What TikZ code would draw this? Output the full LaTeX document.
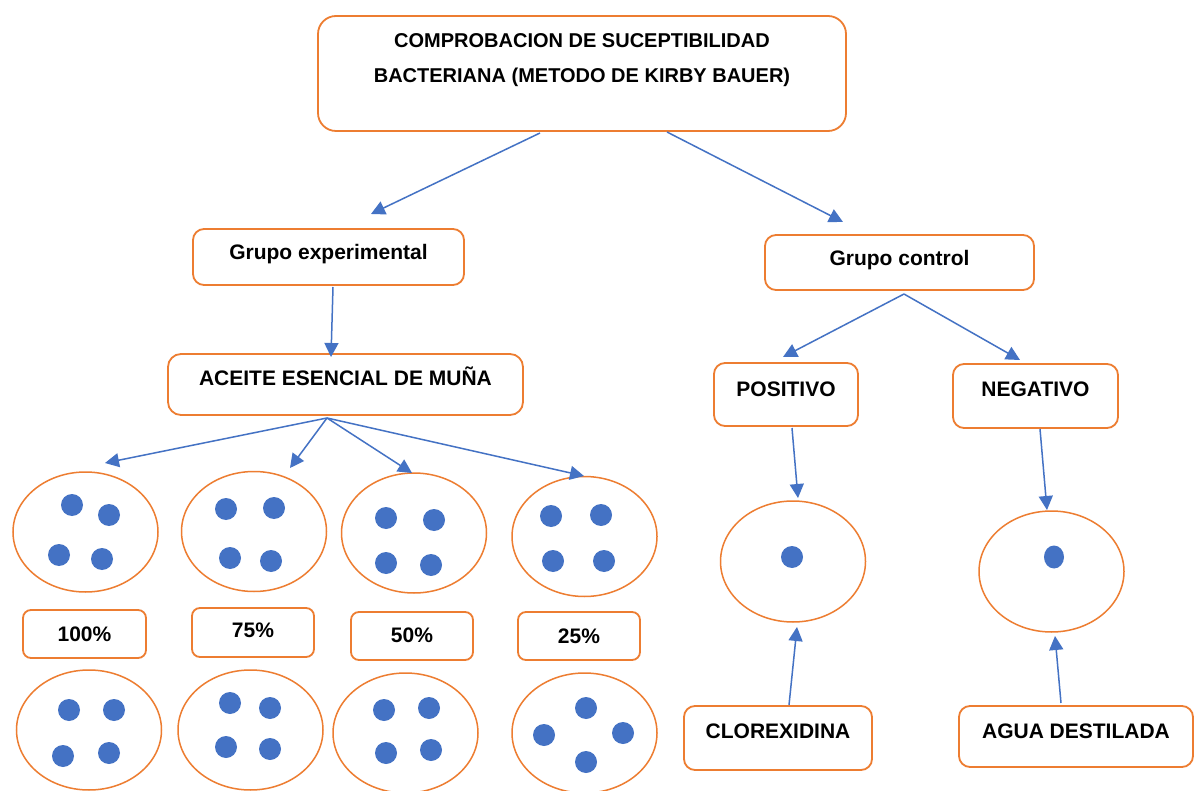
\documentclass[tikz,border=0pt]{standalone}
\usepackage{fontspec}
\setmainfont{Liberation Sans}
\usetikzlibrary{arrows.meta,shapes.geometric}
\definecolor{borderc}{HTML}{ED7D31}
\definecolor{bluec}{HTML}{4472C4}
\tikzset{
  box/.style={draw=borderc, line width=1.8pt, fill=white, rounded corners=11pt,
    inner sep=0pt, font=\bfseries\fontsize{21}{25}\selectfont, text=black},
  dish/.style={draw=borderc, line width=1.5pt, ellipse, inner sep=0pt,
    minimum width=145pt, minimum height=120pt},
  germ/.style={fill=bluec},
  conn/.style={draw=bluec, line width=1.5pt, -{Triangle[length=14pt,width=14pt]}}
}
\begin{document}
\begin{tikzpicture}[x=1pt,y=-1pt]
\useasboundingbox[fill=white] (0,0) rectangle (1194,791);

% boxes
\node[box, rounded corners=18pt, minimum width=528pt, text height=32pt, text depth=83pt] (title) at (582,73.5)
  {\begin{minipage}[t]{520pt}\centering\bfseries\fontsize{20}{35}\selectfont COMPROBACION DE SUCEPTIBILIDAD\\BACTERIANA (METODO DE KIRBY BAUER)\end{minipage}};
\node[box, minimum width=271pt, text height=31pt, text depth=25pt] (gexp) at (328.5,257) {Grupo experimental};
\node[box, minimum width=269pt, text height=31pt, text depth=24pt] (gctl) at (899.5,262.5) {Grupo control};
\node[box, rounded corners=13pt, minimum width=355pt, text height=32pt, text depth=29pt] (aceite) at (345.5,384.5) {ACEITE ESENCIAL DE MUÑA};
\node[box, minimum width=144pt, text height=33pt, text depth=30pt] (pos) at (786,394.5) {POSITIVO};
\node[box, minimum width=165pt, text height=32pt, text depth=32pt] (neg) at (1035.5,396) {NEGATIVO};
\node[box, minimum width=188pt, text height=32pt, text depth=32pt] (clor) at (778,738) {CLOREXIDINA};
\node[box, minimum width=234pt, text height=32pt, text depth=29pt] (agua) at (1076,736.5) {AGUA DESTILADA};
\node[box, rounded corners=8pt, minimum width=123pt, text height=31pt, text depth=17pt] (p100) at (84.5,634) {100\%};
\node[box, rounded corners=8pt, minimum width=122pt, text height=29pt, text depth=20pt] (p75) at (253,632.5) {75\%};
\node[box, rounded corners=8pt, minimum width=122pt, text height=30pt, text depth=18pt] (p50) at (412,636) {50\%};
\node[box, rounded corners=8pt, minimum width=122pt, text height=31pt, text depth=17pt] (p25) at (579,636) {25\%};

% dishes
\node[dish] (e1) at (85.5,532) {};
\node[dish] (e2) at (254,531.5) {};
\node[dish] (e3) at (414,533) {};
\node[dish] (e4) at (584.5,536.5) {};
\node[dish] (b1) at (89,730) {};
\node[dish] (b2) at (250.5,730) {};
\node[dish] (b3) at (405.5,733) {};
\node[dish] (b4) at (584.5,733) {};
\node[dish, minimum height=121pt] (ep) at (793,561.5) {};
\node[dish, minimum height=121pt] (en) at (1051.5,571.5) {};

% germs
\foreach \p in {(72,505),(109,515),(59,555),(102,559),
                (226,509),(274,508),(230,558),(271,561),
                (386,518),(434,520),(386,563),(431,565),
                (551,516),(601,515),(553,561),(604,561),
                (69,710),(114,710),(63,756),(109,753),
                (230,703),(270,708),(226,747),(270,749),
                (384,710),(429,708),(386,753),(431,750),
                (586,708),(544,735),(623,733),(586,762),
                (792,557)}
  \fill[germ] \p circle[radius=11pt];
\fill[germ] (1054,557) ellipse[x radius=10pt, y radius=11.5pt];

% connector ends
\coordinate (t1) at (540,133);  \coordinate (g1) at (371,214);
\coordinate (t2) at (667,132);  \coordinate (g2) at (843,222);
\coordinate (x1) at (333,287);  \coordinate (a1) at (331,357);
\coordinate (f0) at (327,418);
\coordinate (f1) at (105,463);  \coordinate (f2) at (290,468);
\coordinate (f3) at (412,473);  \coordinate (f4) at (584,476);
\coordinate (c0) at (904,294);
\coordinate (c1) at (783,357);  \coordinate (c2) at (1020,360);
\coordinate (ps) at (792,428);  \coordinate (pe) at (798,498);
\coordinate (ns) at (1040,429); \coordinate (ne) at (1047,510);
\coordinate (cs) at (789,705);  \coordinate (ce) at (797,627);
\coordinate (as) at (1061,703); \coordinate (ae) at (1055,636);

% connectors
\draw[conn] (t1) -- (g1);
\draw[conn] (t2) -- (g2);
\draw[conn] (x1) -- (a1);
\draw[conn] (f0) -- (f1);
\draw[conn] (f0) -- (f2);
\draw[conn] (f0) -- (f3);
\draw[conn] (f0) -- (f4);
\draw[conn] (c0) -- (c1);
\draw[conn] (c0) -- (c2);
\draw[conn] (ps) -- (pe);
\draw[conn] (ns) -- (ne);
\draw[conn] (cs) -- (ce);
\draw[conn] (as) -- (ae);
\end{tikzpicture}
\end{document}
